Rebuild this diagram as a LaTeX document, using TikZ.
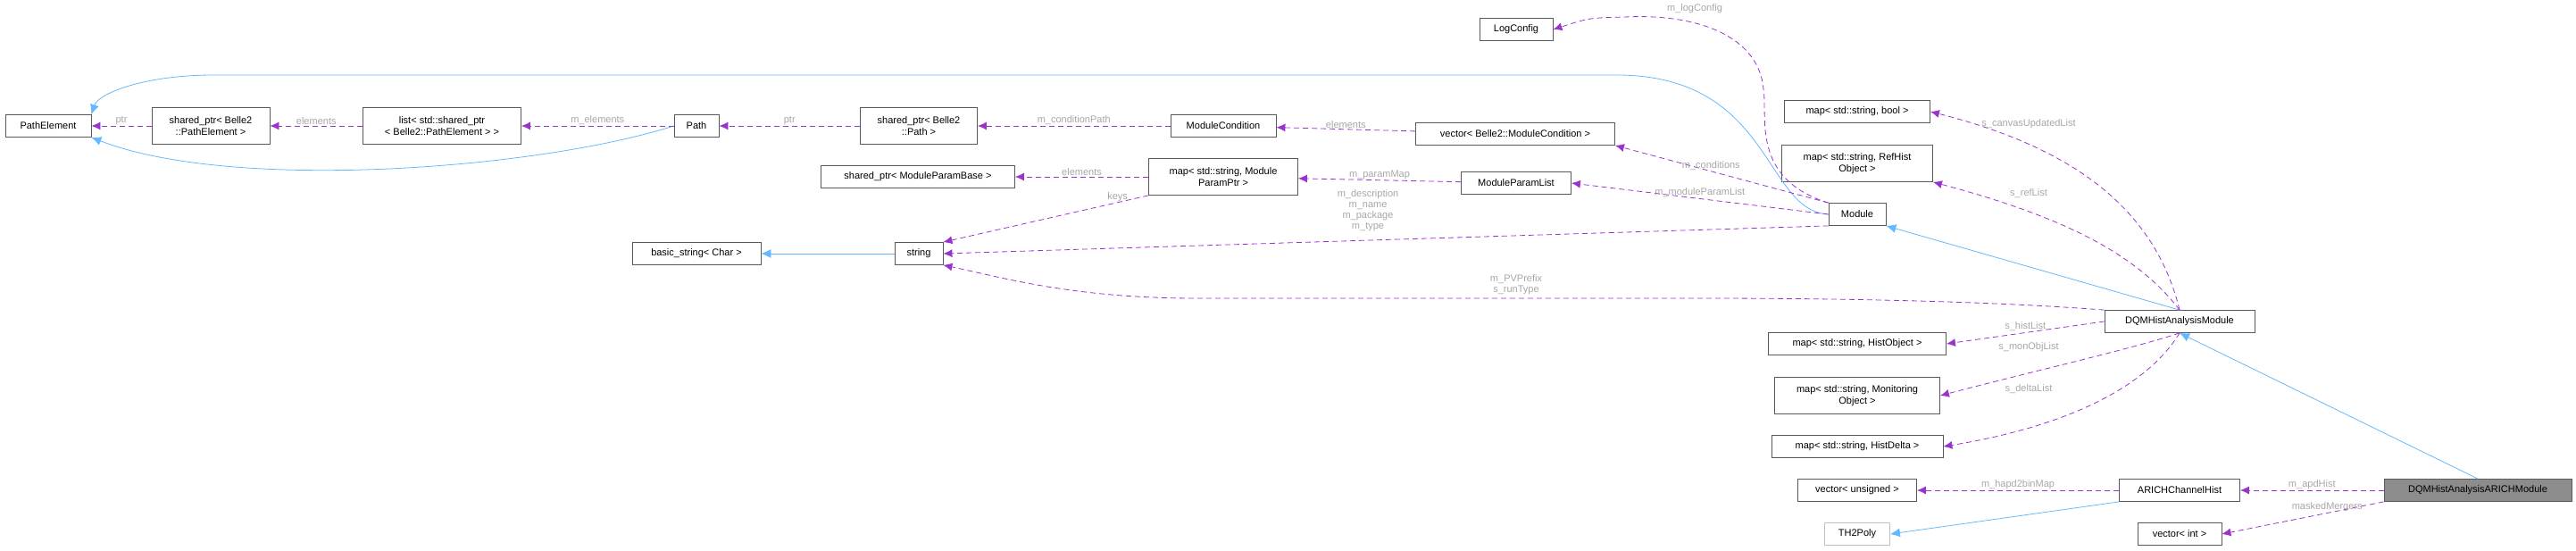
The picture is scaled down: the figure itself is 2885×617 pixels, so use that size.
\documentclass[tikz,border=0pt]{standalone}
\usepackage{fontspec}
\setmainfont{Liberation Sans}
\usetikzlibrary{arrows.meta}
\definecolor{memberpurple}{HTML}{9A32CD}
\definecolor{baseblue}{HTML}{63B8FF}

\begin{document}
\begin{tikzpicture}[x=1pt,y=-1pt]
\tikzstyle{cls} = [rectangle, draw=black!65, thick, fill=white, font=\fontsize{11}{13}\selectfont,
align=center, inner sep=2pt, minimum height=25pt]
\tikzstyle{uses} = [draw=memberpurple, thick, dashed, dash pattern=on 6pt off 4pt,
-{Latex[length=10pt,width=9pt]}]
\tikzstyle{isa} = [draw=baseblue, thick, -{Latex[length=11pt,width=10pt]}]
\tikzstyle{lbl} = [font=\fontsize{11}{12}\selectfont, text=black!35, align=center, inner sep=1pt]
\useasboundingbox (0,0) rectangle (2885,617);

% left chain
\node [cls, minimum width=96pt] (pathelem) at (54,141) {PathElement};
\node [cls, minimum width=132pt, minimum height=41pt] (spelem) at (236,141) {shared\_ptr< Belle2\\::PathElement >};
\node [cls, minimum width=177pt, minimum height=41pt] (list) at (495,141) {list< std::shared\_ptr\\< Belle2::PathElement > >};
\node [cls, minimum width=50pt] (path) at (780,141) {Path};
\node [cls, minimum width=131pt, minimum height=41pt] (sppath) at (1029,141) {shared\_ptr< Belle2\\::Path >};
\node [cls, minimum width=118pt] (modcond) at (1370,141) {ModuleCondition};
\node [cls, minimum width=223pt] (veccond) at (1697,150) {vector< Belle2::ModuleCondition >};
\node [cls, minimum width=82pt] (logcfg) at (1698,33) {LogConfig};
\node [cls, minimum width=217pt] (spparam) at (1028,198) {shared\_ptr< ModuleParamBase >};
\node [cls, minimum width=167pt, minimum height=41pt] (parammap) at (1370,198) {map< std::string, Module\\ParamPtr >};
\node [cls, minimum width=123pt] (paramlist) at (1698,205) {ModuleParamList};
\node [cls, minimum width=144pt] (basicstr) at (780,284) {basic\_string< Char >};
\node [cls, minimum width=54pt] (string) at (1029,284) {string};
\node [cls, minimum width=64pt] (module) at (2080,240) {Module};

% right column
\node [cls, minimum width=163pt] (mapbool) at (2080,125) {map< std::string, bool >};
\node [cls, minimum width=169pt, minimum height=41pt] (mapref) at (2080,183) {map< std::string, RefHist\\Object >};
\node [cls, minimum width=168pt] (dqm) at (2441,360) {DQMHistAnalysisModule};
\node [cls, minimum width=199pt] (maphist) at (2080,385) {map< std::string, HistObject >};
\node [cls, minimum width=185pt, minimum height=41pt] (mapmon) at (2080,443) {map< std::string, Monitoring\\Object >};
\node [cls, minimum width=192pt] (mapdelta) at (2080,500) {map< std::string, HistDelta >};
\node [cls, minimum width=133pt] (vecuns) at (2080,549) {vector< unsigned >};
\node [cls, minimum width=135pt] (chanhist) at (2441,549) {ARICHChannelHist};
\node [cls, minimum width=210pt, fill=black!45] (arich) at (2775,549) {DQMHistAnalysisARICHModule};
\node [cls, minimum width=73pt, draw=black!25] (th2poly) at (2080,598) {TH2Poly};
\node [cls, minimum width=94pt] (vecint) at (2441,598) {vector< int >};

% inheritance
\draw [isa] (string) -- (basicstr);
\draw [isa] (path.west) .. controls (600,190) and (260,215) .. (pathelem.south east);
\draw [isa] (module.west) .. controls (1975,236) and (1985,84) .. (1810,84)
  -- (240,84) .. controls (160,84) and (110,105) .. (pathelem.north east);
\draw [isa] (dqm.north) -- (module.south east);
\draw [isa] (arich.north) -- (dqm.south);
\draw [isa] (chanhist.south west) -- (th2poly.east);

% members
\draw [uses] (spelem) -- node [lbl, above] {ptr} (pathelem);
\draw [uses] (list) -- node [lbl, above] {elements} (spelem);
\draw [uses] (path) -- node [lbl, above] {m\_elements} (list);
\draw [uses] (sppath) -- node [lbl, above] {ptr} (path);
\draw [uses] (modcond) -- node [lbl, above] {m\_conditionPath} (sppath);
\draw [uses] (veccond) -- node [lbl, above] {elements} (modcond);
\draw [uses] (module.north west) -- node [lbl, above, pos=0.55] {m\_conditions} (veccond.south east);
\draw [uses] (module.north west) .. controls (1960,200) and (1980,130) .. (1975,100)
  .. controls (1970,40) and (1900,15) .. (1820,19) .. controls (1780,20) .. (logcfg.east);
\node [lbl] (lblog) at (1898,10) {m\_logConfig};
\draw [uses] (module.west) -- node [lbl, above, pos=0.5] {m\_moduleParamList} (paramlist.east);
\draw [uses] (paramlist) -- node [lbl, above] {m\_paramMap} (parammap);
\draw [uses] (parammap) -- node [lbl, above] {elements} (spparam);
\draw [uses] (parammap.south west) -- node [lbl, above, pos=0.15] {keys} (string.north east);
\draw [uses] (module.south west) -- (string.east);
\node [lbl] (lbdesc) at (1532,236) {m\_description\\m\_name\\m\_package\\m\_type};
\draw [uses] (dqm.north west) .. controls (2200,335) and (2000,334) .. (1900,334)
  -- (1340,334) .. controls (1200,334) and (1120,310) .. (string.south east);
\node [lbl] (lbpv) at (1698,319) {m\_PVPrefix\\s\_runType};
\draw [uses] (dqm.north) .. controls (2410,220) and (2300,160) .. (mapbool.east);
\node [lbl] (lbcanvas) at (2272,139) {s\_canvasUpdatedList};
\draw [uses] (dqm.north) .. controls (2390,280) and (2300,240) .. (mapref.south east);
\node [lbl] (lbref) at (2272,217) {s\_refList};
\draw [uses] (dqm.west) -- node [lbl, above, pos=0.5] {s\_histList} (maphist.east);
\draw [uses] (dqm.south) .. controls (2390,390) and (2280,415) .. (mapmon.east);
\node [lbl] (lbmon) at (2272,389) {s\_monObjList};
\draw [uses] (dqm.south) .. controls (2400,440) and (2300,480) .. (mapdelta.east);
\node [lbl] (lbdelta) at (2272,436) {s\_deltaList};
\draw [uses] (chanhist) -- node [lbl, above] {m\_hapd2binMap} (vecuns);
\draw [uses] (arich) -- node [lbl, above] {m\_apdHist} (chanhist);
\draw [uses] (arich.south west) -- node [lbl, above, pos=0.35] {maskedMergers} (vecint.east);
\end{tikzpicture}
\end{document}
